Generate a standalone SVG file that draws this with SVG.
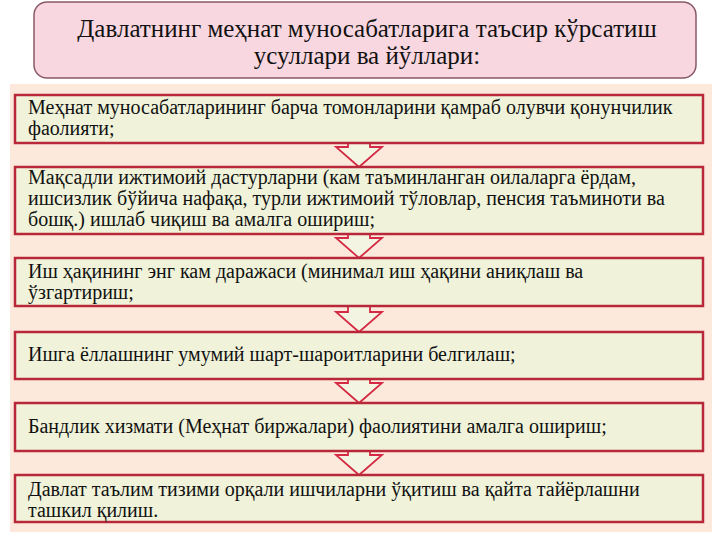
<svg xmlns="http://www.w3.org/2000/svg" width="720" height="540" viewBox="0 0 720 540">
  <defs>
    <style>
      .bg { fill: #fde9db; }
      .title-box { fill: #f8d7e0; stroke: #8a5a6a; stroke-width: 1.5; }
      .title-text { font-family: 'Liberation Serif', 'Times New Roman', serif; font-size: 25px; fill: #111; text-anchor: middle; }
      .box { fill: #f0f3da; stroke: #b8283a; stroke-width: 2.5; }
      .box-text { font-family: 'Liberation Serif', 'Times New Roman', serif; font-size: 20px; fill: #111; }
      .arrow { fill: #f3f5e2; stroke: #d42a44; stroke-width: 1.8; stroke-linejoin: miter; }
    </style>
  </defs>
  <rect x="0" y="0" width="720" height="540" fill="#ffffff"/>
  <rect class="bg" x="10" y="84" width="702" height="448"/>

  <g id="title">
    <rect class="title-box" x="34" y="2" width="662" height="76" rx="13" ry="13"/>
    <text class="title-text" x="367" y="37">Давлатнинг меҳнат муносабатларига таъсир кўрсатиш</text>
    <text class="title-text" x="367" y="64">усуллари ва йўллари:</text>
  </g>

  <g id="connectors">
    <polygon class="arrow" points="348,137 370,137 370,147 382,147 359,167 336,147 348,147"/>
    <polygon class="arrow" points="348,226 370,226 370,238 382,238 359,258 336,238 348,238"/>
    <polygon class="arrow" points="348,300 370,300 370,312 382,312 359,332 336,312 348,312"/>
    <polygon class="arrow" points="348,373 370,373 370,383 382,383 359,403 336,383 348,383"/>
    <polygon class="arrow" points="348,445 370,445 370,455 382,455 359,475 336,455 348,455"/>
  </g>

  <g id="node1">
    <rect class="box" x="15" y="95" width="688" height="48"/>
    <text class="box-text" x="28" y="114">Меҳнат муносабатларининг барча томонларини қамраб олувчи қонунчилик</text>
    <text class="box-text" x="28" y="135">фаолияти;</text>
  </g>

  <g id="node2">
    <rect class="box" x="15" y="167" width="688" height="67"/>
    <text class="box-text" x="28" y="184">Мақсадли ижтимоий дастурларни (кам таъминланган оилаларга ёрдам,</text>
    <text class="box-text" x="28" y="205">ишсизлик бўйича нафақа, турли ижтимоий тўловлар, пенсия таъминоти ва</text>
    <text class="box-text" x="28" y="226">бошқ.) ишлаб чиқиш ва амалга ошириш;</text>
  </g>

  <g id="node3">
    <rect class="box" x="15" y="258" width="688" height="48"/>
    <text class="box-text" x="28" y="278">Иш ҳақининг энг кам даражаси (минимал иш ҳақини аниқлаш ва</text>
    <text class="box-text" x="28" y="299">ўзгартириш;</text>
  </g>

  <g id="node4">
    <rect class="box" x="15" y="332" width="688" height="47"/>
    <text class="box-text" x="28" y="361">Ишга ёллашнинг умумий шарт-шароитларини белгилаш;</text>
  </g>

  <g id="node5">
    <rect class="box" x="15" y="403" width="688" height="48"/>
    <text class="box-text" x="28" y="433">Бандлик хизмати (Меҳнат биржалари) фаолиятини амалга ошириш;</text>
  </g>

  <g id="node6">
    <rect class="box" x="15" y="475" width="688" height="47"/>
    <text class="box-text" x="28" y="496">Давлат таълим тизими орқали ишчиларни ўқитиш ва қайта тайёрлашни</text>
    <text class="box-text" x="28" y="517">ташкил қилиш.</text>
  </g>
</svg>
